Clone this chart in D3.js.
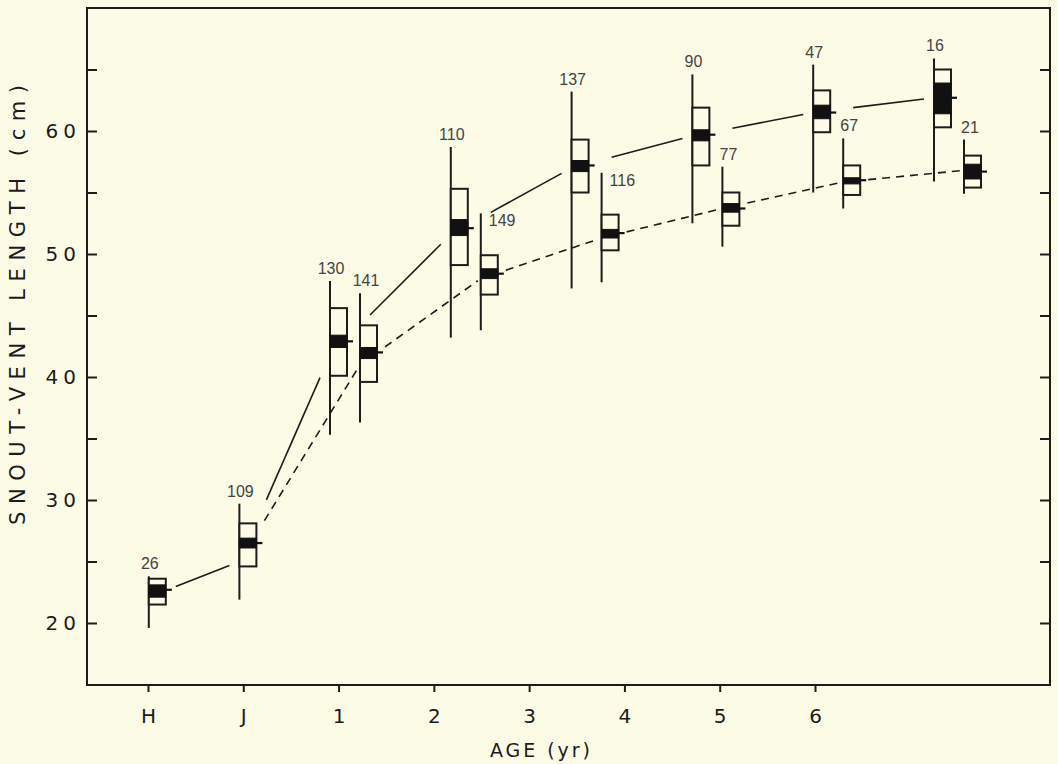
<!DOCTYPE html>
<html>
<head>
<meta charset="utf-8">
<script src="https://cdn.jsdelivr.net/npm/d3@7"></script>
<style>
  html, body { margin: 0; padding: 0; background: #fcfbe6; }
  svg { display: block; }
</style>
</head>
<body>
<svg id="chart" width="1058" height="764"></svg>
<script>
// ---- Axis categories ------------------------------------------------------
const ageLabels = ["H", "J", "1", "2", "3", "4", "5", "6"];
const yTicks = [20, 25, 30, 35, 40, 45, 50, 55, 60, 65];
const yLabelled = [20, 30, 40, 50, 60];

// ---- Hatchlings (H) and juveniles (J), sexes pooled -----------------------
const youngClass = ["H", "J"];
const youngAge = [-0.5, 0.25];          // nominal age (yr) where the two groups sit
const youngN = [26, 109];
const youngMean = [22.7, 26.5];
const youngMin = [19.6, 21.9];
const youngMax = [23.8, 29.7];
const youngSdLow = [21.5, 24.6];
const youngSdHigh = [23.6, 28.1];
const youngSeLow = [22.1, 26.1];
const youngSeHigh = [23.1, 26.9];
const youngFit = [22.1, 25.0];          // fitted growth curve at H and J

// ---- Year classes, males (solid curve) ------------------------------------
const yearClass = [1, 2, 3, 4, 5, 6];
const maleN = [130, 110, 137, 90, 47, 16];
const maleMean = [42.9, 52.1, 57.2, 59.7, 61.5, 62.7];
const maleMin = [35.3, 43.2, 47.2, 52.5, 55.0, 55.9];
const maleMax = [47.8, 58.7, 63.2, 64.6, 65.4, 65.9];
const maleSdLow = [40.1, 49.1, 55.0, 57.2, 59.9, 60.3];
const maleSdHigh = [45.6, 55.3, 59.3, 61.9, 63.3, 65.0];
const maleSeLow = [42.4, 51.5, 56.7, 59.2, 61.0, 61.4];
const maleSeHigh = [43.4, 52.8, 57.6, 60.1, 62.1, 63.9];
const maleFit = [41.8, 51.6, 57.0, 59.6, 61.5, 62.7];

// ---- Year classes, females (dashed curve) ---------------------------------
const femaleN = [141, 149, 116, 77, 67, 21];
const femaleMean = [42.0, 48.4, 51.7, 53.7, 56.0, 56.7];
const femaleMin = [36.3, 43.8, 47.7, 50.6, 53.7, 54.9];
const femaleMax = [46.8, 53.3, 56.6, 57.1, 59.4, 59.3];
const femaleSdLow = [39.6, 46.7, 50.3, 52.3, 54.8, 55.4];
const femaleSdHigh = [44.2, 49.9, 53.2, 55.0, 57.2, 58.0];
const femaleSeLow = [41.5, 48.0, 51.3, 53.4, 55.7, 56.1];
const femaleSeHigh = [42.4, 48.8, 52.0, 54.1, 56.2, 57.3];
const femaleFit = [41.0, 48.0, 51.3, 53.7, 55.85, 56.8];
// sample sizes written beside the range line instead of above it
const femaleLabelBeside = [false, true, true, false, false, false];

// ---- Layout ---------------------------------------------------------------
const W = 1058, H = 764;
const plotLeft = 87, plotRight = 1050, plotTop = 8, plotBottom = 685;
const bg = "#fcfbe6";
const ink = "#1c1c1c";
const boxW = 17;
const sexOffset = 30;
const labelFont = "'DejaVu Sans', sans-serif";

const svg = d3.select("#chart");
svg.append("rect").attr("width", W).attr("height", H).attr("fill", bg);

const y = d3.scaleLinear().domain([15, 70]).range([684.5, 8]);
const xAxisScale = d3.scalePoint().domain(ageLabels).range([148, 815]);
const xAge = d3.scaleLinear().domain([1, 6]).range([330, 934]);

// ---- Records --------------------------------------------------------------
const young = youngClass.map((c, i) => ({
  x: xAge(youngAge[i]), n: youngN[i], mean: youngMean[i], min: youngMin[i], max: youngMax[i],
  sdLow: youngSdLow[i], sdHigh: youngSdHigh[i], seLow: youngSeLow[i], seHigh: youngSeHigh[i],
  fit: youngFit[i], year: false, beside: false, female: false
}));
const males = yearClass.map((a, i) => ({
  x: xAge(a), n: maleN[i], mean: maleMean[i], min: maleMin[i], max: maleMax[i],
  sdLow: maleSdLow[i], sdHigh: maleSdHigh[i], seLow: maleSeLow[i], seHigh: maleSeHigh[i],
  fit: maleFit[i], year: true, beside: false, female: false
}));
const females = yearClass.map((a, i) => ({
  x: xAge(a) + sexOffset, n: femaleN[i], mean: femaleMean[i], min: femaleMin[i], max: femaleMax[i],
  sdLow: femaleSdLow[i], sdHigh: femaleSdHigh[i], seLow: femaleSeLow[i], seHigh: femaleSeHigh[i],
  fit: femaleFit[i], year: true, beside: femaleLabelBeside[i], female: true
}));

// ---- Frame and axes -------------------------------------------------------
svg.append("rect")
  .attr("x", plotLeft).attr("y", plotTop)
  .attr("width", plotRight - plotLeft).attr("height", plotBottom - plotTop)
  .attr("fill", "none").attr("stroke", ink).attr("stroke-width", 2);

function styleAxis(g) {
  g.select(".domain").remove();
  g.selectAll(".tick line").attr("stroke", ink).attr("stroke-width", 2);
  g.selectAll(".tick text")
    .attr("fill", ink)
    .style("font-family", labelFont)
    .style("font-size", "20px")
    .style("letter-spacing", "5px");
}

svg.append("g")
  .attr("transform", `translate(${plotLeft},0)`)
  .call(d3.axisLeft(y).tickValues(yTicks).tickSize(-10).tickPadding(6)
    .tickFormat(d => yLabelled.includes(d) ? d : ""))
  .call(styleAxis);

svg.append("g")
  .attr("transform", `translate(${plotRight},0)`)
  .call(d3.axisRight(y).tickValues(yTicks).tickSize(-10).tickFormat(""))
  .call(styleAxis);

svg.append("g")
  .attr("transform", `translate(0,${plotBottom})`)
  .call(d3.axisBottom(xAxisScale).tickSize(7).tickPadding(17))
  .call(styleAxis)
  .call(g => g.selectAll(".tick text").attr("dx", "2.5px"));

// axis titles
svg.append("text")
  .attr("transform", `translate(25,305) rotate(-90)`)
  .attr("text-anchor", "middle")
  .attr("textLength", 440).attr("lengthAdjust", "spacing")
  .attr("fill", ink)
  .style("font-family", labelFont).style("font-size", "21px")
  .text("SNOUT-VENT LENGTH (cm)");

svg.append("text")
  .attr("x", 540).attr("y", 757)
  .attr("text-anchor", "middle")
  .attr("textLength", 100).attr("lengthAdjust", "spacing")
  .attr("fill", ink)
  .style("font-family", labelFont).style("font-size", "19px")
  .text("AGE (yr)");

// ---- Growth curves (drawn with gaps round each sample) --------------------
function segments(pts, gapFor, endGap) {
  const out = [];
  for (let i = 0; i < pts.length - 1; i++) {
    const a = pts[i], b = pts[i + 1];
    const ax = a.x, ay = y(a.fit), bx = b.x, by = y(b.fit);
    const dx = bx - ax;
    const t0 = gapFor(a) / dx, t1 = 1 - endGap / dx;
    out.push([[ax + dx * t0, ay + (by - ay) * t0], [ax + dx * t1, ay + (by - ay) * t1]]);
  }
  return out;
}
const line = d3.line();

svg.append("g").selectAll("path")
  .data(segments(young.concat(males), d => d.year ? 40 : 27, 10))
  .join("path")
  .attr("d", line)
  .attr("fill", "none").attr("stroke", ink).attr("stroke-width", 1.6);

svg.append("g").selectAll("path")
  .data(segments([young[1]].concat(females), () => 25, 3))
  .join("path")
  .attr("d", line)
  .attr("fill", "none").attr("stroke", ink).attr("stroke-width", 1.6)
  .attr("stroke-dasharray", "8,6");

// ---- Range / SD / 2SE diagrams -------------------------------------------
function drawSamples(recs) {
  const g = svg.append("g").selectAll("g").data(recs).join("g");
  g.append("line")
    .attr("x1", d => d.x).attr("x2", d => d.x)
    .attr("y1", d => y(d.max)).attr("y2", d => y(d.min))
    .attr("stroke", ink).attr("stroke-width", 2);
  g.append("rect")
    .attr("x", d => d.x).attr("width", boxW)
    .attr("y", d => y(d.sdHigh)).attr("height", d => y(d.sdLow) - y(d.sdHigh))
    .attr("fill", bg).attr("stroke", ink).attr("stroke-width", 2);
  g.append("rect")
    .attr("x", d => d.x).attr("width", boxW)
    .attr("y", d => y(d.seHigh)).attr("height", d => y(d.seLow) - y(d.seHigh))
    .attr("fill", "#111").attr("stroke", "#111").attr("stroke-width", 1);
  g.append("line")
    .attr("x1", d => d.x).attr("x2", d => d.x + boxW + 6)
    .attr("y1", d => y(d.mean)).attr("y2", d => y(d.mean))
    .attr("stroke", "#111").attr("stroke-width", 2.2);
  g.append("text")
    .attr("x", d => d.beside ? d.x + 8 : d.x + (d.female ? 6 : 1))
    .attr("y", d => d.beside ? y(d.max) + 13 : y(d.max) - 7)
    .attr("text-anchor", d => d.beside ? "start" : "middle")
    .attr("fill", "#444")
    .style("font-family", "'Liberation Sans', Arial, sans-serif")
    .style("font-size", "16px")
    .text(d => d.n);
}
drawSamples(young);
drawSamples(males);
drawSamples(females);
</script>
</body>
</html>
